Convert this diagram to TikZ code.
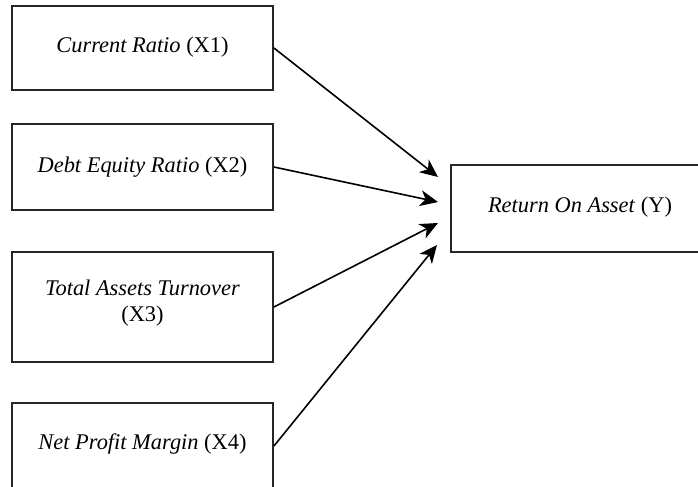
\documentclass[tikz,border=0pt]{standalone}
\usepackage{fontspec}
\setmainfont{Liberation Serif}
\usetikzlibrary{arrows.meta}
\begin{document}
\begin{tikzpicture}[x=0.75pt,y=-0.75pt,
  box/.style={draw=black!85, line width=1.4pt, minimum width=261*0.75pt, align=center, inner sep=0pt,
    font=\fontsize{16.8}{21.5}\selectfont},
  conn/.style={line width=1.2pt, -{Stealth[length=13.5pt,width=12pt,inset=4pt]}}]
\useasboundingbox (0,0) rectangle (698,486);
\clip (0,0) rectangle (698,486);
\node[box, minimum height=84*0.75pt] (x1) at (142.5,48) {\raisebox{5pt}{\textit{Current Ratio} (X1)}};
\node[box, minimum height=86*0.75pt] (x2) at (142.5,167) {\raisebox{4pt}{\textit{Debt Equity Ratio} (X2)}};
\node[box, minimum height=110*0.75pt] (x3) at (142.5,307) {\raisebox{9pt}{\shortstack{\textit{Total Assets Turnover}\\[4.5pt](X3)}}};
\node[box, minimum height=86*0.75pt] (x4) at (142.5,446) {\raisebox{6pt}{\textit{Net Profit Margin} (X4)}};
\node[box, minimum width=258*0.75pt, minimum height=87*0.75pt] (y) at (580,208.5) {\raisebox{6pt}{\textit{Return On Asset} (Y)}};
\coordinate (t1) at (438,177);
\coordinate (t2) at (438,202);
\coordinate (t3) at (438,223);
\coordinate (t4) at (437,245);
\draw[conn] (x1.east) -- (t1);
\draw[conn] (x2.east) -- (t2);
\draw[conn] (x3.east) -- (t3);
\draw[conn] (x4.east) -- (t4);
\end{tikzpicture}
\end{document}
